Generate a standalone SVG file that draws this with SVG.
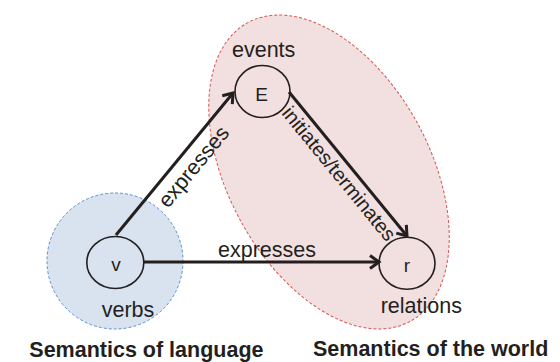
<svg xmlns="http://www.w3.org/2000/svg" width="560" height="362" viewBox="0 0 560 362">
<style>
text{font-family:"Liberation Sans",Arial,Helvetica,sans-serif;fill:#231f20}
.lbl{font-size:21.5px}
.sym{font-size:19px;text-anchor:middle}
.title{font-size:21.5px;font-weight:bold}
.node{fill:none;stroke:#231f20;stroke-width:1.6}
.edge{fill:none;stroke:#231f20;stroke-width:3;marker-end:url(#arrow)}
</style>
<defs>
<marker id="arrow" markerUnits="userSpaceOnUse" viewBox="0 0 16 16" markerWidth="16" markerHeight="16" refX="13" refY="8" orient="auto">
<path d="M4,1.5 L13,8 L4,14.5" fill="none" stroke="#231f20" stroke-width="3" stroke-linejoin="miter"/>
</marker>
</defs>
<g id="world-region">
<ellipse cx="329" cy="172" rx="170" ry="101" transform="rotate(61.5 329 172)" fill="#f2dfdf" stroke="#d9534f" stroke-width="1" stroke-dasharray="3,2"/>
</g>
<g id="language-region">
<circle cx="115" cy="261" r="68" fill="#d9e3ef" stroke="#5b8fd0" stroke-width="1" stroke-dasharray="3,2"/>
</g>
<g id="connectors">
<line class="edge" x1="116" y1="235" x2="233" y2="93"/>
<line class="edge" x1="143" y1="262" x2="379" y2="262"/>
<line class="edge" x1="289" y1="92" x2="407" y2="236"/>
<text class="lbl" text-anchor="middle" transform="translate(199.1 171.3) rotate(-50.5)">expresses</text>
<text class="lbl" x="267" y="256.7" text-anchor="middle">expresses</text>
<text font-size="20" text-anchor="middle" transform="translate(333.7 178.1) rotate(50.7)">initiates/terminates</text>
</g>
<g id="node-E">
<ellipse class="node" cx="262.5" cy="91.5" rx="27.5" ry="26"/>
<text class="sym" x="261.5" y="100.5">E</text>
<text class="lbl" x="232" y="57.3">events</text>
</g>
<g id="node-v">
<ellipse class="node" cx="115.3" cy="262.5" rx="28.5" ry="26"/>
<text class="sym" x="116" y="270.7">v</text>
<text class="lbl" x="101.7" y="316.7">verbs</text>
</g>
<g id="node-r">
<ellipse class="node" cx="407" cy="263.3" rx="28" ry="26"/>
<text class="sym" x="407" y="271.7">r</text>
<text class="lbl" x="380.7" y="313.3">relations</text>
</g>
<g id="titles">
<text class="title" x="29.3" y="357.3">Semantics of language</text>
<text class="title" x="313" y="355.5">Semantics of the world</text>
</g>
</svg>
